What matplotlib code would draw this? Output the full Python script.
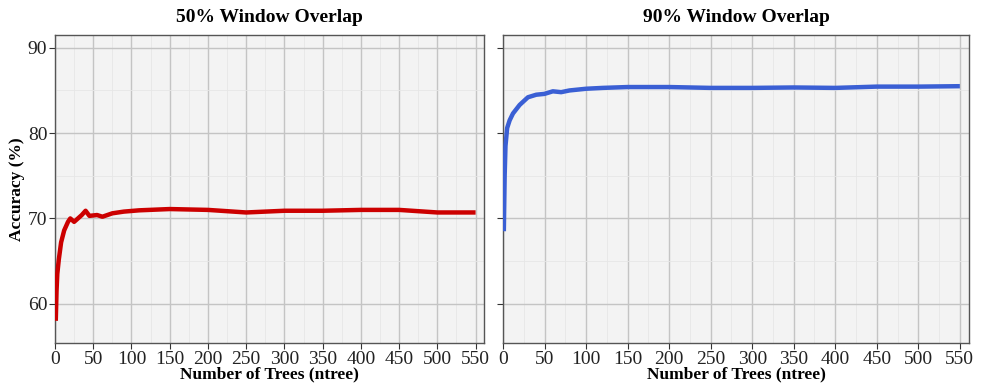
import matplotlib
matplotlib.use("Agg")
import matplotlib.pyplot as plt
from matplotlib.ticker import MultipleLocator

# --- data ---
ntree_50 = [1, 2, 3, 5, 8, 12, 17, 20, 25, 30, 35, 40, 45, 55, 62, 75, 90, 110,
            150, 200, 250, 300, 350, 400, 450, 500, 550]
acc_50 = [58.0, 61.5, 63.5, 65.2, 67.2, 68.6, 69.6, 70.0, 69.6, 70.0, 70.4, 70.9,
          70.3, 70.4, 70.2, 70.6, 70.8, 70.95, 71.1, 71.0, 70.7, 70.9, 70.9,
          71.0, 71.0, 70.7, 70.7]

ntree_90 = [1, 2, 3, 5, 8, 12, 20, 30, 40, 50, 60, 70, 80, 100, 120, 150, 200,
            250, 300, 350, 400, 450, 500, 550]
acc_90 = [68.5, 75.0, 78.5, 80.6, 81.5, 82.3, 83.3, 84.2, 84.5, 84.6, 84.9, 84.8,
          85.0, 85.2, 85.3, 85.4, 85.4, 85.3, 85.3, 85.35, 85.3, 85.45, 85.45, 85.5]

titles = ["50% Window Overlap", "90% Window Overlap"]
colors = ["#CC0000", "#3A5FD4"]

plt.rcParams["font.family"] = ["Liberation Serif", "DejaVu Serif"]

fig = plt.figure(figsize=(9.86, 3.85), dpi=100)
W, H = 986, 385
ax1 = fig.add_axes([55 / W, 1 - 343 / H, 429 / W, 308 / H])
ax2 = fig.add_axes([503 / W, 1 - 343 / H, 466 / W, 308 / H], sharey=ax1)

for ax, x, y, t, c in [(ax1, ntree_50, acc_50, titles[0], colors[0]),
                       (ax2, ntree_90, acc_90, titles[1], colors[1])]:
    ax.set_facecolor("#F3F3F3")
    ax.plot(x, y, color=c, linewidth=3.2, solid_capstyle="butt", zorder=3)
    ax.set_xlim(0, 561)
    ax.set_ylim(55.4, 91.5)
    ax.xaxis.set_major_locator(MultipleLocator(50))
    ax.xaxis.set_minor_locator(MultipleLocator(25))
    ax.yaxis.set_major_locator(MultipleLocator(10))
    ax.yaxis.set_minor_locator(MultipleLocator(5))
    ax.grid(which="major", color="#C4C4C4", linewidth=1.0)
    ax.grid(which="minor", color="#E6E6E6", linewidth=0.6)
    ax.set_axisbelow(True)
    ax.tick_params(which="minor", length=0)
    ax.tick_params(which="major", length=4, color="#333333", labelsize=14,
                   labelcolor="#222222", pad=1.5)
    for s in ax.spines.values():
        s.set_color("#555555")
        s.set_linewidth(1.0)
    ax.set_title(t, fontsize=14, fontweight="bold", pad=9)
    ax.set_xlabel("Number of Trees (ntree)", fontsize=12.5, fontweight="bold",
                  labelpad=-1)

ax1.set_ylabel("Accuracy (%)", fontsize=12.5, fontweight="bold", labelpad=2)
ax2.tick_params(axis="y", labelleft=False)

fig.savefig("out.png", dpi=100)
